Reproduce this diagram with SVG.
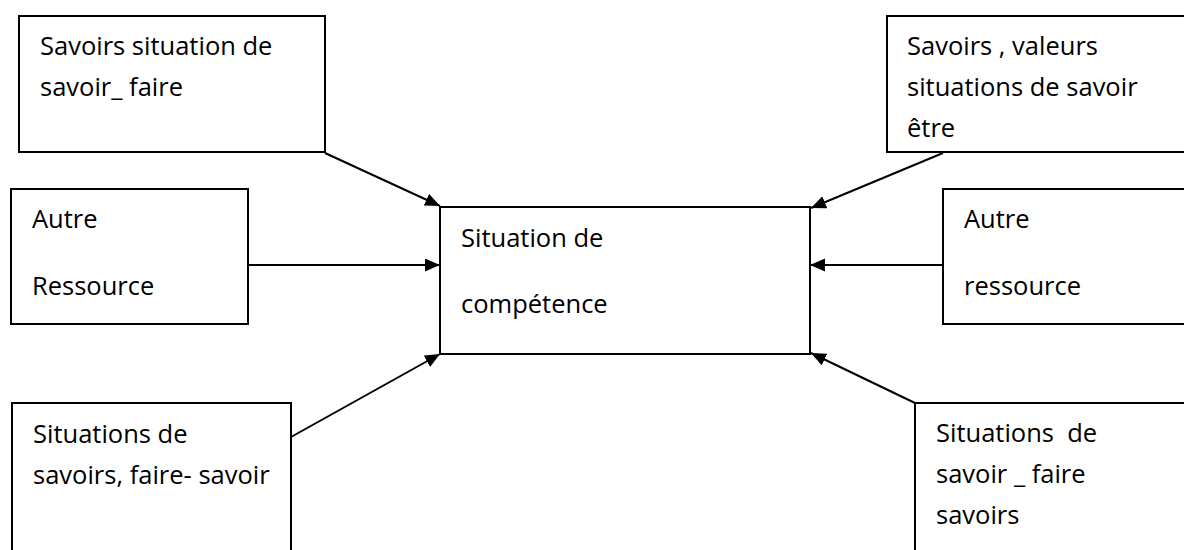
<svg xmlns="http://www.w3.org/2000/svg" width="1184" height="550" viewBox="0 0 1184 550">
  <style>
    .box { fill: #ffffff; stroke: #000000; stroke-width: 2; }
    .edge { fill: none; stroke: #000000; stroke-width: 2; }
    .lbl { font-family: "Open Sans", "Noto Sans", "Liberation Sans", sans-serif; font-size: 25.5px; fill: #000000; }
    .link { stroke: #000000; stroke-width: 2; fill: none; marker-end: url(#head); }
  </style>
  <defs>
    <marker id="head" markerUnits="userSpaceOnUse" markerWidth="16" markerHeight="14" refX="15" refY="6.5" orient="auto">
      <path d="M0,0 L15,6.5 L0,13 Z" fill="#000000"/>
    </marker>
  </defs>
  <rect width="1184" height="550" fill="#ffffff"/>

  <!-- top left -->
  <g id="node-savoir-faire">
    <rect class="box" x="19" y="16" width="306" height="136"/>
    <text class="lbl" x="40" y="55">Savoirs situation de</text>
    <text class="lbl" x="40" y="96">savoir_ faire</text>
  </g>

  <!-- top right: open on the right side -->
  <g id="node-savoir-etre">
    <rect x="887" y="16" width="297" height="136" fill="#ffffff"/>
    <path class="edge" d="M1184,16 H887 V152 H1184"/>
    <text class="lbl" x="907" y="55">Savoirs , valeurs</text>
    <text class="lbl" x="907" y="96">situations de savoir</text>
    <text class="lbl" x="907" y="137">être</text>
  </g>

  <!-- middle left -->
  <g id="node-autre-left">
    <rect class="box" x="11" y="189" width="237" height="135"/>
    <text class="lbl" x="32" y="228">Autre</text>
    <text class="lbl" x="32" y="295">Ressource</text>
  </g>

  <!-- centre -->
  <g id="node-competence">
    <rect class="box" x="440" y="207" width="370" height="147"/>
    <text class="lbl" x="461" y="247">Situation de</text>
    <text class="lbl" x="461" y="313">compétence</text>
  </g>

  <!-- middle right: open on the right side -->
  <g id="node-autre-right">
    <rect x="943" y="189" width="241" height="135" fill="#ffffff"/>
    <path class="edge" d="M1184,189 H943 V324 H1184"/>
    <text class="lbl" x="964" y="228">Autre</text>
    <text class="lbl" x="964" y="295">ressource</text>
  </g>

  <!-- bottom left: runs off the bottom edge -->
  <g id="node-faire-savoir">
    <rect x="12" y="403" width="279" height="147" fill="#ffffff"/>
    <path class="edge" d="M12,551 V403 H291 V551"/>
    <text class="lbl" x="33" y="443">Situations de</text>
    <text class="lbl" x="33" y="484">savoirs, faire- savoir</text>
  </g>

  <!-- bottom right: runs off the bottom and right edges -->
  <g id="node-savoir-faire-savoirs">
    <rect x="915" y="403" width="269" height="147" fill="#ffffff"/>
    <path class="edge" d="M915,551 V403 H1184"/>
    <text class="lbl" x="936" y="442" xml:space="preserve">Situations  de</text>
    <text class="lbl" x="936" y="483">savoir _ faire</text>
    <text class="lbl" x="936" y="524">savoirs</text>
  </g>

  <g id="connectors">
    <line class="link" x1="325" y1="153" x2="440" y2="206"/>
    <line class="link" x1="943" y1="153" x2="811" y2="208"/>
    <line class="link" x1="248" y1="265" x2="440" y2="265"/>
    <line class="link" x1="943" y1="265" x2="810" y2="265"/>
    <line class="link" x1="291" y1="437" x2="440" y2="354"/>
    <line class="link" x1="915" y1="403" x2="811" y2="353"/>
  </g>
</svg>
